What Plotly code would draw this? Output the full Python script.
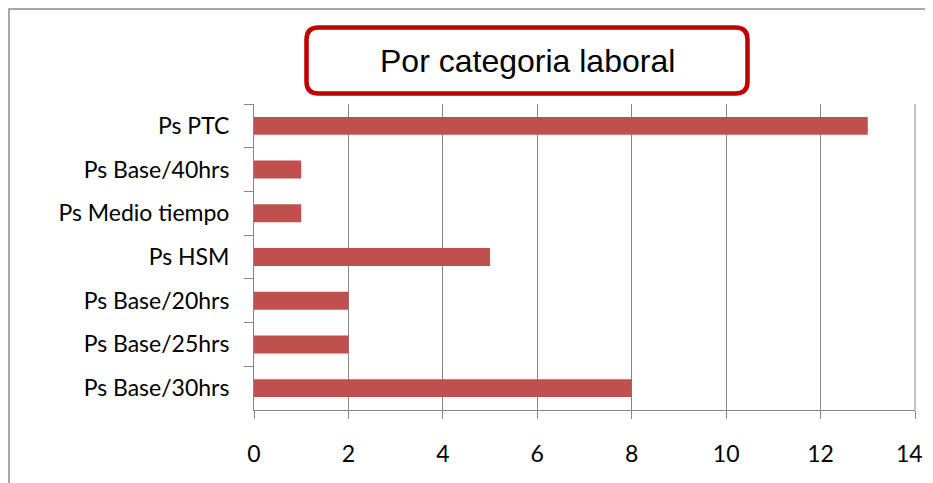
import plotly.graph_objects as go

categories = ["Ps PTC", "Ps Base/40hrs", "Ps Medio tiempo", "Ps HSM",
              "Ps Base/20hrs", "Ps Base/25hrs", "Ps Base/30hrs"]
values = [13, 1, 1, 5, 2, 2, 8]
x_ticks = [0, 2, 4, 6, 8, 10, 12, 14]
title_text = "Por categoria laboral"

# The page body adds an 8px margin around the figure, so the figure is
# sized to the space that is left and pixel positions are shifted by 8.
OFF = 8
W, H = 933 - 2 * OFF, 483 - OFF
L, R, T, B = 254 - OFF, 915 - OFF, 104 - OFF, 410 - OFF

def px(x):
    return (x - OFF - L) / (R - L)

def py(y):
    return (B - (y - OFF)) / (B - T)

fig = go.Figure(go.Bar(
    y=categories, x=values, orientation="h",
    marker=dict(color="#C0504D", line=dict(width=0)),
    width=0.41,
))

label_font = dict(family="Lato, Open Sans, sans-serif", size=23, color="#000000")
grid_color = "#868686"

# the last tick label would overflow the page edge (and be dropped by plotly),
# so it is placed as right-anchored text at the same axis value instead
tick_text = [str(v) for v in x_ticks[:-1]] + [""]

fig.update_layout(
    width=W, height=H, autosize=False,
    margin=dict(l=L, r=W - R, t=T, b=H - B, pad=0),
    paper_bgcolor="white", plot_bgcolor="white",
    showlegend=False,
    xaxis=dict(
        range=[0, 14], tickvals=x_ticks, ticktext=tick_text,
        showgrid=True, gridcolor=grid_color, gridwidth=1,
        showline=True, linecolor=grid_color, linewidth=1,
        ticks="outside", ticklen=8, tickcolor=grid_color, tickwidth=1,
        tickfont=label_font, zeroline=False, ticklabelstandoff=15,
        fixedrange=True,
    ),
    yaxis=dict(
        type="category", autorange="reversed",
        showline=True, linecolor=grid_color, linewidth=1,
        ticks="outside", ticklen=9, tickcolor=grid_color, tickwidth=1,
        tickson="boundaries", showgrid=False,
        tickfont=label_font, ticklabelstandoff=19,
        fixedrange=True,
    ),
)

fig.add_annotation(text=str(x_ticks[-1]), xref="x", yref="paper",
                   x=x_ticks[-1], y=py(453), xanchor="right", yanchor="middle",
                   xshift=W - R, showarrow=False, font=label_font)

# gridline at the right end of the value axis (plot edge)
fig.add_shape(type="line", xref="paper", yref="paper", x0=1, x1=1, y0=0, y1=1,
              line=dict(color=grid_color, width=1))

# outer chart frame (cropped on right and bottom)
fig.add_shape(type="path", xref="paper", yref="paper",
              path=f"M {px(9)},{py(500)} L {px(9)},{py(9)} L {px(950)},{py(9)}",
              line=dict(color="#8C8C8C", width=1.5))

# rounded title box
x0, x1, y0, y1, r = 306.5, 747.5, 27.5, 93.5, 12
path = (f"M {px(x0 + r)},{py(y0)} L {px(x1 - r)},{py(y0)} "
        f"Q {px(x1)},{py(y0)} {px(x1)},{py(y0 + r)} "
        f"L {px(x1)},{py(y1 - r)} Q {px(x1)},{py(y1)} {px(x1 - r)},{py(y1)} "
        f"L {px(x0 + r)},{py(y1)} Q {px(x0)},{py(y1)} {px(x0)},{py(y1 - r)} "
        f"L {px(x0)},{py(y0 + r)} Q {px(x0)},{py(y0)} {px(x0 + r)},{py(y0)} Z")
fig.add_shape(type="path", xref="paper", yref="paper", path=path,
              line=dict(color="#C00000", width=4.5), fillcolor="white")

fig.add_annotation(text=title_text, xref="paper", yref="paper",
                   x=px(527), y=py(61), showarrow=False,
                   xanchor="center", yanchor="middle",
                   font=dict(family="Liberation Sans, Arial, sans-serif", size=32, color="#000000"))

fig.write_html("out.html")
